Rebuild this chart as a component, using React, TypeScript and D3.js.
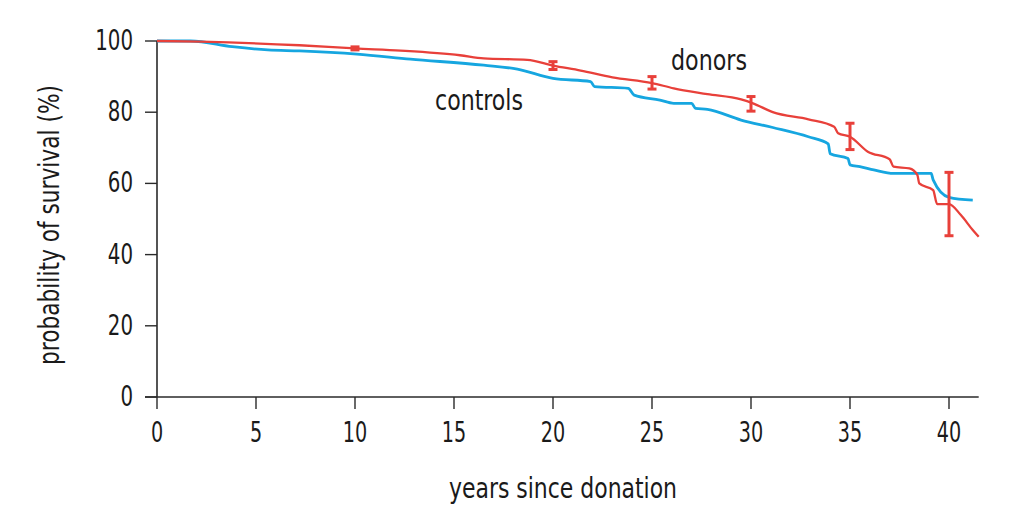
import React from "react";
import * as d3 from "d3";

const donorYears = [0, 2.2, 7.2, 10, 12.3, 15.3, 16.5, 18.7, 20, 21.4, 23, 25, 26.1, 27.8, 29.5, 30.1, 31.1, 32.9, 34.2, 34.4, 35, 35.9, 37, 37.2, 38, 38.4, 38.5, 39.2, 39.4, 40, 40.6, 41.2, 41.5];
const donorValues = [100, 99.8, 98.8, 97.9, 97.3, 96.0, 95.1, 94.7, 93.1, 91.7, 89.8, 88.2, 86.7, 85.1, 83.6, 82.5, 80.0, 78.0, 75.9, 74.1, 73.1, 68.9, 66.8, 64.7, 64.2, 62.4, 60.0, 58.1, 54.2, 54.2, 51.1, 46.9, 45.0];

const controlYears = [0, 1.7, 3.8, 5.6, 7.2, 10.1, 12.8, 16.5, 18.2, 20, 21.9, 22.1, 23.8, 24.1, 25.4, 26.1, 27.0, 27.2, 27.8, 29.5, 31.1, 32.9, 33.9, 34.0, 34.9, 35.0, 35.5, 36.2, 37.2, 39.1, 39.2, 40, 41.2];
const controlValues = [100, 100, 98.4, 97.5, 97.2, 96.3, 94.9, 93.2, 92.1, 89.5, 88.6, 87.2, 86.7, 84.8, 83.4, 82.5, 82.5, 81.1, 80.8, 77.8, 75.7, 73.1, 71.1, 68.3, 67.0, 65.2, 64.7, 63.8, 62.8, 62.8, 61.0, 56.1, 55.3];

const errYears = [10, 20, 25, 30, 35, 40];
const errLow = [97.5, 92.0, 86.5, 80.3, 69.5, 45.3];
const errHigh = [98.35, 94.2, 90.0, 84.4, 76.9, 63.1];

const xTicks = [0, 5, 10, 15, 20, 25, 30, 35, 40];
const yTicks = [0, 20, 40, 60, 80, 100];

const RED = "#e8403a";
const BLUE = "#16a6e0";
const AXIS = "#2a2a2a";
const TEXT = "#1a1a1a";
const FONT = "'DejaVu Sans Condensed', 'Liberation Sans', sans-serif";

export default function App() {
  const x = d3.scaleLinear().domain([0, 40]).range([157, 949]);
  const y = d3.scaleLinear().domain([0, 100]).range([397, 41]);

  const line = d3
    .line<[number, number]>()
    .x((d) => x(d[0]))
    .y((d) => y(d[1]))
    .curve(d3.curveMonotoneX);

  const donors: [number, number][] = donorYears.map((t, i) => [t, donorValues[i]]);
  const controls: [number, number][] = controlYears.map((t, i) => [t, controlValues[i]]);

  return (
    <svg
      width={1010}
      height={527}
      style={{ position: "absolute", left: 0, top: 0, background: "#fff" }}
      fontFamily={FONT}
    >
      <rect width={1010} height={527} fill="#fff" />
      {/* axes */}
      <line x1={157} x2={157} y1={y(100)} y2={y(0)} stroke={AXIS} strokeWidth={1.6} />
      <line x1={145} x2={x(41.5)} y1={y(0)} y2={y(0)} stroke={AXIS} strokeWidth={1.6} />
      {yTicks.map((t) => (
        <g key={"y" + t}>
          <line x1={145} x2={157} y1={y(t)} y2={y(t)} stroke={AXIS} strokeWidth={1.4} />
          <text
            x={133}
            y={y(t) + 9}
            textAnchor="end"
            fontSize={28}
            fill={TEXT}
            textLength={12.6 * String(t).length}
            lengthAdjust="spacingAndGlyphs"
          >
            {t}
          </text>
        </g>
      ))}
      {xTicks.map((t) => (
        <g key={"x" + t}>
          <line x1={x(t)} x2={x(t)} y1={y(0)} y2={y(0) + 12} stroke={AXIS} strokeWidth={1.4} />
          <text
            x={x(t)}
            y={442}
            textAnchor="middle"
            fontSize={28}
            fill={TEXT}
            textLength={12.2 * String(t).length}
            lengthAdjust="spacingAndGlyphs"
          >
            {t}
          </text>
        </g>
      ))}
      <text
        x={563}
        y={498}
        textAnchor="middle"
        fontSize={28}
        fill={TEXT}
        textLength={228}
        lengthAdjust="spacingAndGlyphs"
      >
        years since donation
      </text>
      <text
        transform={`translate(59,225) rotate(-90)`}
        textAnchor="middle"
        fontSize={28}
        fill={TEXT}
        textLength={280}
        lengthAdjust="spacingAndGlyphs"
      >
        probability of survival (%)
      </text>

      {/* curves */}
      <path d={line(controls) || ""} fill="none" stroke={BLUE} strokeWidth={2.8} strokeLinejoin="round" />
      <path d={line(donors) || ""} fill="none" stroke={RED} strokeWidth={2.3} strokeLinejoin="round" />

      {/* error bars */}
      {errYears.map((t, i) => (
        <g key={"e" + t} stroke={RED}>
          <line x1={x(t)} x2={x(t)} y1={y(errLow[i])} y2={y(errHigh[i])} strokeWidth={3} />
          <line x1={x(t) - 4.5} x2={x(t) + 4.5} y1={y(errLow[i])} y2={y(errLow[i])} strokeWidth={3} />
          <line x1={x(t) - 4.5} x2={x(t) + 4.5} y1={y(errHigh[i])} y2={y(errHigh[i])} strokeWidth={3} />
        </g>
      ))}

      <text x={671} y={70} fontSize={28} fill={TEXT} textLength={76} lengthAdjust="spacingAndGlyphs">
        donors
      </text>
      <text x={435} y={110} fontSize={28} fill={TEXT} textLength={88} lengthAdjust="spacingAndGlyphs">
        controls
      </text>
    </svg>
  );
}
